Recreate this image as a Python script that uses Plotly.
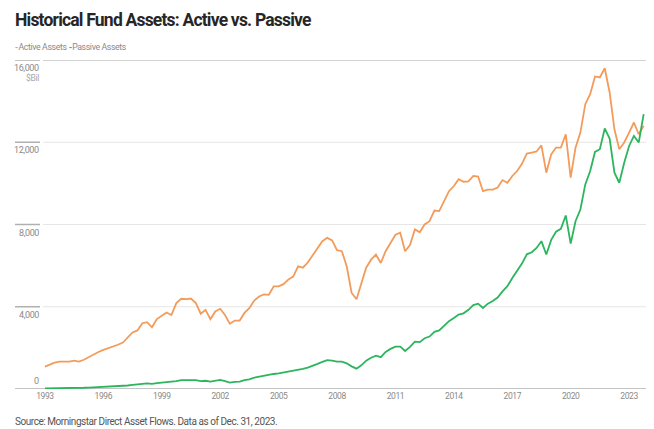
import pandas as pd
import plotly.graph_objects as go

# Quarterly observations, 1993 Q1 .. 2023 Q4 ($ billions)
dates = pd.date_range("1993-01-01", periods=124, freq="QS").strftime("%Y-%m-%d").tolist()

active_assets = [
    1090, 1200, 1280, 1330, 1330, 1330, 1380, 1330, 1420, 1550, 1680, 1800,
    1900, 1980, 2060, 2150, 2260, 2500, 2750, 2850, 3200, 3250, 3000, 3400,
    3550, 3720, 3600, 4180, 4390, 4370, 4400, 4180, 3660, 3850, 3400, 3770,
    3900, 3600, 3170, 3330, 3330, 3700, 3930, 4300, 4500, 4600, 4580, 4990,
    4990, 5100, 5320, 5470, 5970, 5900, 6150, 6500, 6800, 7190, 7350, 7230,
    6750, 6700, 5970, 4670, 4370, 5160, 5900, 6290, 6540, 6130, 6700, 7100,
    7500, 7600, 6700, 7000, 7760, 7620, 8000, 8160, 8680, 8650, 9140, 9620,
    9870, 10200, 10080, 10100, 10360, 10330, 9620, 9700, 9700, 9800, 10160, 10030,
    10360, 10600, 10950, 11450, 11500, 11550, 11850, 10520, 11410, 11740, 11740, 12390,
    10280, 11740, 12470, 13850, 14340, 15200, 15150, 15600, 14420, 12630, 11660, 11990,
    12470, 12960, 12390, 12800,
]

passive_assets = [
    30, 30, 40, 40, 40, 50, 50, 50, 60, 70, 80, 90,
    100, 110, 120, 130, 150, 170, 200, 210, 250, 270, 250, 290,
    310, 330, 330, 380, 430, 440, 440, 430, 380, 400, 360, 410,
    440, 380, 310, 350, 360, 430, 470, 550, 600, 640, 680, 730,
    760, 800, 840, 880, 930, 980, 1040, 1120, 1220, 1320, 1400, 1380,
    1330, 1330, 1250, 1100, 990, 1150, 1380, 1520, 1620, 1550, 1800, 1950,
    2060, 2060, 1850, 2050, 2300, 2280, 2470, 2550, 2780, 2850, 3050, 3300,
    3450, 3620, 3680, 3850, 4080, 4150, 3940, 4150, 4280, 4450, 4750, 5000,
    5400, 5750, 6100, 6550, 6650, 6860, 7190, 6540, 7250, 7650, 7790, 8440,
    7070, 8160, 8730, 9950, 10600, 11530, 11660, 12670, 12180, 10520, 10030, 11000,
    11820, 12310, 11990, 13370,
]

y_ticks = [0, 4000, 8000, 12000, 16000]
y_tick_labels = ["0", "4,000", "8,000", "12,000", "16,000"]
x_tick_years = [1993, 1996, 1999, 2002, 2005, 2008, 2011, 2014, 2017, 2020, 2023]

ORANGE = "#F39B5B"
GREEN = "#2DB55D"
FONT = "Roboto, 'Liberation Sans', sans-serif"

# page body has an 8px margin: work in target-page pixels and subtract it
OFF = 8
W, H = 654 - OFF, 429 - OFF
PLOT_L, PLOT_R, PLOT_T, PLOT_B = 43, 650, 60, 389     # target page pixels
L = PLOT_L - OFF
T = PLOT_T - OFF
R = (W + OFF) - PLOT_R
B = (H + OFF) - PLOT_B
pw = W - L - R
ph = H - T - B

def pxx(px):  # target page x -> paper x
    return (px - PLOT_L) / pw

def pxy(py):  # target page y -> paper y
    return (PLOT_B - py) / ph

def tight(s, ls):
    return f"<span style='letter-spacing:{ls}px'>{s}</span>"

fig = go.Figure()
fig.add_trace(go.Scatter(x=dates, y=active_assets, mode="lines", name="Active Assets",
                         line=dict(color=ORANGE, width=1.8), showlegend=False))
fig.add_trace(go.Scatter(x=dates, y=passive_assets, mode="lines", name="Passive Assets",
                         line=dict(color=GREEN, width=1.8), showlegend=False))

shapes = []
annotations = []
for v, lab in zip(y_ticks, y_tick_labels):
    if v == 16000:
        col, w, x0 = "#c4c4c4", 1.5, pxx(43)
    elif v == 0:
        col, w, x0 = "#c4c4c4", 2, pxx(15)
    else:
        col, w, x0 = "#e6e6e6", 1, pxx(43)
    shapes.append(dict(type="line", xref="paper", yref="y", x0=x0, x1=pxx(649),
                       y0=v, y1=v, line=dict(color=col, width=w), layer="below"))
    if v != 0:
        shapes.append(dict(type="line", xref="paper", yref="y", x0=pxx(15), x1=pxx(40),
                           y0=v, y1=v, line=dict(color="#b0b0b0", width=1.5), layer="below"))
    annotations.append(dict(xref="paper", yref="y", x=pxx(41), y=v,
                            text=tight(lab, -0.4), showarrow=False, xanchor="right",
                            yanchor="bottom" if v == 0 else "top",
                            yshift=1 if v == 0 else -1,
                            font=dict(family=FONT, size=9, color="#8a8a8a")))

annotations.append(dict(xref="paper", yref="y", x=pxx(41), y=16000,
                        text=tight("$Bil", -0.3), showarrow=False, xanchor="right", yanchor="top",
                        yshift=-11, font=dict(family=FONT, size=8.5, color="#a8a8a8")))

annotations.append(dict(xref="paper", yref="paper", x=pxx(13), y=pxy(20),
                        text="<b>" + tight("Historical Fund Assets: Active vs. Passive", -0.8) + "</b>",
                        showarrow=False, xanchor="left", yanchor="middle",
                        font=dict(family=FONT, size=17.5, color="#262626")))

annotations.append(dict(xref="paper", yref="paper", x=pxx(13), y=pxy(47),
                        text=f"<span style='color:{ORANGE}'><b>-</b></span>" + tight("Active Assets", -0.35) + " "
                             f"<span style='color:{GREEN}'><b>-</b></span>" + tight("Passive Assets", -0.35),
                        showarrow=False, xanchor="left", yanchor="middle",
                        font=dict(family=FONT, size=8.7, color="#8a8a8a")))

annotations.append(dict(xref="paper", yref="paper", x=pxx(13), y=pxy(421),
                        text=tight("Source: Morningstar Direct Asset Flows. Data as of Dec. 31, 2023.", -0.45),
                        showarrow=False, xanchor="left", yanchor="middle",
                        font=dict(family=FONT, size=10, color="#555555")))

fig.update_layout(
    width=W, height=H,
    margin=dict(l=L, r=R, t=T, b=B),
    paper_bgcolor="white", plot_bgcolor="white",
    shapes=shapes, annotations=annotations,
    xaxis=dict(
        type="date",
        range=["1992-11-25", "2024-01-28"],
        tickvals=[f"{y}-01-01" for y in x_tick_years],
        ticktext=[tight(str(y), -0.4) for y in x_tick_years],
        showgrid=False, zeroline=False, showline=False, ticks="",
        tickfont=dict(family=FONT, size=8.5, color="#8a8a8a"),
    ),
    yaxis=dict(range=[0, 16000], showgrid=False, zeroline=False, showticklabels=False,
               showline=False, ticks=""),
)

fig.write_html("out.html")
